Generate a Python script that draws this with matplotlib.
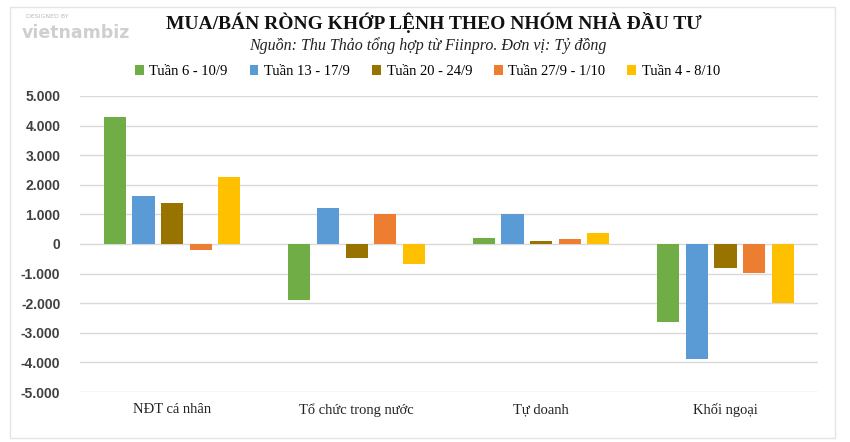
import matplotlib.pyplot as plt
import numpy as np

# Dữ liệu (tỷ đồng)
categories = ['NĐT cá nhân', 'Tổ chức trong nước', 'Tự doanh', 'Khối ngoại']
weeks = ['Tuần 6 - 10/9', 'Tuần 13 - 17/9', 'Tuần 20 - 24/9', 'Tuần 27/9 - 1/10', 'Tuần 4 - 8/10']
w1 = [4300, -1900, 200, -2640]
w2 = [1630, 1200, 1000, -3880]
w3 = [1390, -480, 110, -820]
w4 = [-200, 1000, 160, -990]
w5 = [2250, -660, 380, -2000]
colors = ['#70AD47', '#5B9BD5', '#997300', '#ED7D31', '#FFC000']
yticks = [-5000, -4000, -3000, -2000, -1000, 0, 1000, 2000, 3000, 4000, 5000]

series = [w1, w2, w3, w4, w5]

fig = plt.figure(figsize=(8.5, 4.42), dpi=100)
ax = fig.add_axes([0.094, 0.113, 0.868, 0.67])

x = np.arange(len(categories))
step = 0.155
width = 0.12
for i, (vals, c, lab) in enumerate(zip(series, colors, weeks)):
    ax.bar(x + (i - 2) * step, vals, width, color=c, label=lab, zorder=3)

ax.set_xlim(-0.5, 3.5)
ax.set_ylim(-5000, 5000)
ax.set_yticks(yticks)
ax.set_yticklabels([f'{v:,}'.replace(',', '.') for v in yticks],
                   fontfamily='Liberation Sans', fontweight='bold', fontsize=10, color='#404040')
ax.set_xticks(x)
ax.set_xticklabels(categories, fontfamily='Liberation Serif', fontsize=10.5, color='#222222')
ax.tick_params(axis='both', length=0)
ax.tick_params(axis='y', pad=14)
ax.tick_params(axis='x', pad=8)
ax.grid(axis='y', color='#d9d9d9', linewidth=1, zorder=0)
for s in ax.spines.values():
    s.set_visible(False)

fig.text(0.51, 0.948, 'MUA/BÁN RÒNG KHỚP LỆNH THEO NHÓM NHÀ ĐẦU TƯ', ha='center', va='center',
         fontfamily='Liberation Serif', fontweight='bold', fontsize=14, color='#111111')
fig.text(0.503, 0.896, 'Nguồn: Thu Thảo tổng hợp từ Fiinpro. Đơn vị: Tỷ đồng', ha='center', va='center',
         fontfamily='Liberation Serif', fontstyle='italic', fontsize=11.5, color='#222222')

fig.legend(loc='center', bbox_to_anchor=(0.503, 0.838), ncol=5, frameon=False,
           prop={'family': 'Liberation Serif', 'size': 10.5}, handlelength=0.6, handleheight=0.6,
           handletextpad=0.4, columnspacing=1.5)

# logo
fig.text(0.03, 0.962, 'DESIGNED BY', fontfamily='DejaVu Sans', fontsize=4.5, color='#bbbbbb', va='center')
fig.text(0.026, 0.925, 'vietnambiz', fontfamily='DejaVu Sans', fontsize=12.5, color='#cfcfcf',
         fontweight='bold', va='center')

fig.add_artist(plt.Rectangle((0.012, 0.01), 0.97, 0.975, transform=fig.transFigure,
                             fill=False, edgecolor='#e4e4e4', linewidth=1))

plt.savefig('out.png', dpi=100)
